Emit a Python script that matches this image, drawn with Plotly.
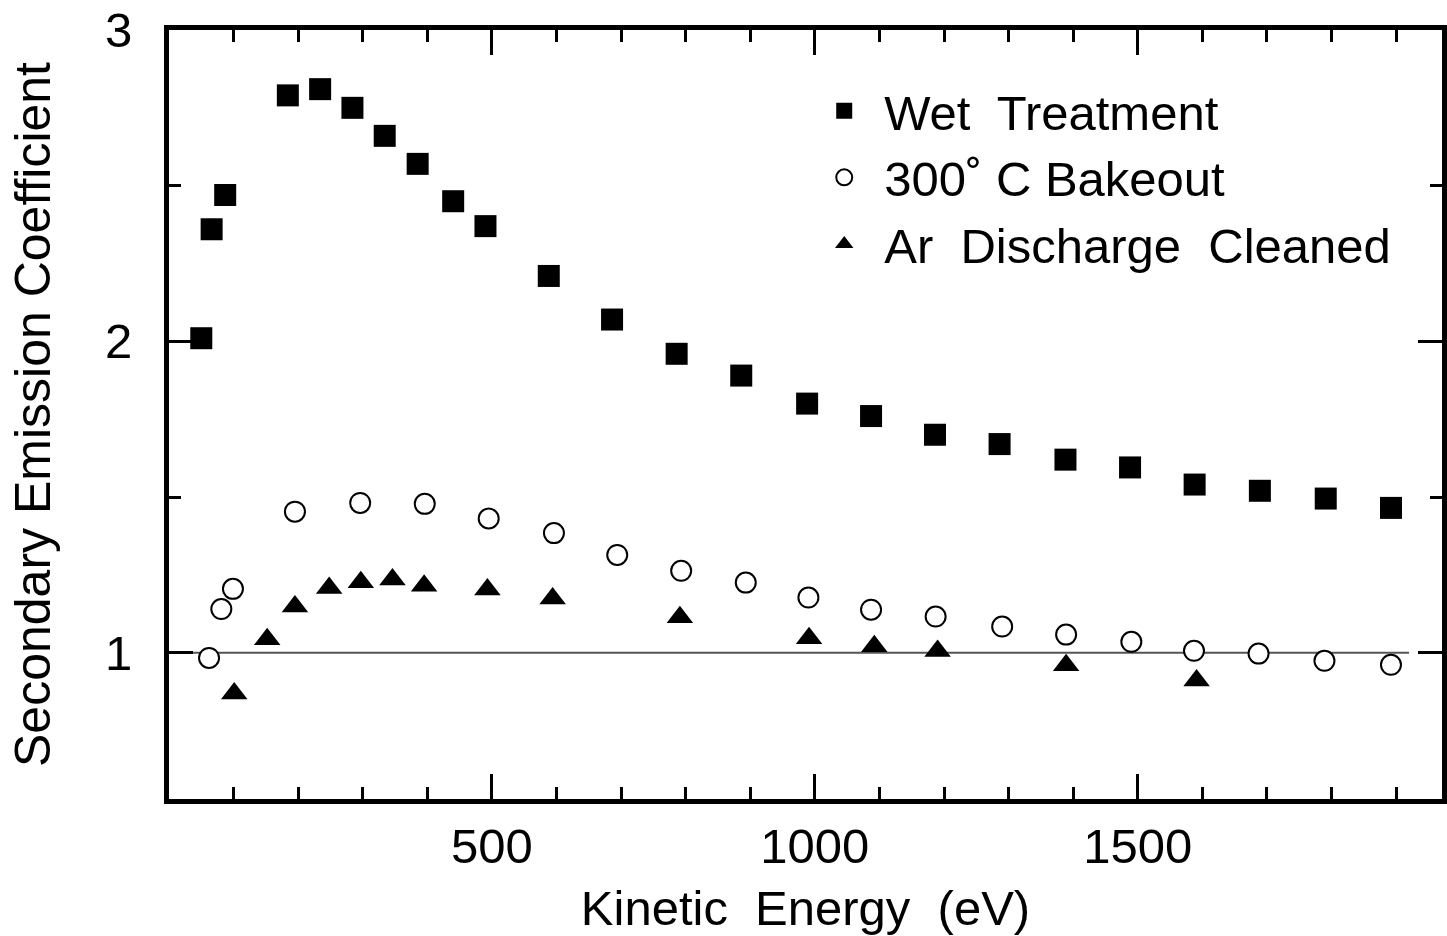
import plotly.graph_objects as go

# ---- data ----
wet_x = [50, 66, 87, 184, 234, 284, 334, 385, 440, 490, 588, 686, 786, 886,
         988, 1087, 1186, 1286, 1388, 1488, 1588, 1689, 1791, 1892]
wet_y = [2.01, 2.36, 2.47, 2.79, 2.81, 2.75, 2.66, 2.57, 2.45, 2.37, 2.21, 2.07,
         1.96, 1.89, 1.80, 1.76, 1.70, 1.67, 1.62, 1.595, 1.54, 1.52, 1.495, 1.465]

bake_x = [62, 81, 99, 195, 296, 396, 495, 596, 694, 793, 893, 990, 1087, 1187,
          1290, 1389, 1490, 1587, 1687, 1789, 1892]
bake_y = [0.983, 1.140, 1.205, 1.453, 1.481, 1.478, 1.431, 1.384, 1.314, 1.263,
          1.225, 1.177, 1.138, 1.116, 1.084, 1.058, 1.035, 1.006, 0.997, 0.974, 0.961]

ar_x = [101, 152, 195, 248, 297, 346, 395, 493, 594, 791, 991, 1092, 1190, 1389, 1591]
ar_y = [0.869, 1.043, 1.148, 1.208, 1.226, 1.235, 1.215, 1.203, 1.174, 1.114,
        1.046, 1.021, 1.005, 0.960, 0.911]

names = ["Wet\u00a0 Treatment", "300\u02da C Bakeout", "Ar\u00a0 Discharge\u00a0 Cleaned"]
x_ticks = [500, 1000, 1500]
y_ticks = [1, 2, 3]
ref_level = 1
ref_line_end = 1920

FONT = "Liberation Sans, Arial, sans-serif"

fig = go.Figure()
fig.add_trace(go.Scatter(x=wet_x, y=wet_y, mode="markers", name=names[0],
                         marker=dict(symbol="square", size=22, color="black",
                                     line=dict(width=0))))
fig.add_trace(go.Scatter(x=bake_x, y=bake_y, mode="markers", name=names[1],
                         marker=dict(symbol="circle", size=20, color="white",
                                     line=dict(width=2, color="black"))))
fig.add_trace(go.Scatter(x=ar_x, y=ar_y, mode="markers", name=names[2],
                         marker=dict(symbol="triangle-up", size=23, color="black",
                                     line=dict(width=0))))

fig.add_shape(type="line", xref="x", yref="y", x0=0, x1=ref_line_end,
              y0=ref_level, y1=ref_level, line=dict(color="#555555", width=2),
              layer="below")

fig.update_layout(
    width=1447, height=936,
    margin=dict(l=169, r=0, t=30, b=137),
    paper_bgcolor="white", plot_bgcolor="white",
    font=dict(family=FONT, size=49, color="black"),
    showlegend=True,
    legend=dict(x=0.499, y=0.945, xanchor="left", yanchor="top",
                bgcolor="rgba(0,0,0,0)", borderwidth=0,
                font=dict(family=FONT, size=49, color="black"),
                itemwidth=70),
)

fig.update_xaxes(
    range=[0, 1971],
    tickmode="array", tickvals=x_ticks,
    ticks="inside", ticklen=25, tickwidth=3, tickcolor="black",
    minor=dict(tickmode="linear", tick0=0, dtick=100, ticks="inside",
               ticklen=12, tickwidth=3, tickcolor="black"),
    showline=True, linewidth=5, linecolor="black", mirror="ticks",
    showgrid=False, zeroline=False,
    ticklabelstandoff=0,
    tickfont=dict(size=49),
    title=dict(text="Kinetic\u00a0 Energy\u00a0 (eV)", font=dict(size=49), standoff=20),
)

fig.update_yaxes(
    range=[0.53, 3.0],
    tickmode="array", tickvals=y_ticks,
    ticks="inside", ticklen=24, tickwidth=3, tickcolor="black",
    minor=dict(tickmode="linear", tick0=0, dtick=0.5, ticks="inside",
               ticklen=12, tickwidth=3, tickcolor="black"),
    showline=True, linewidth=5, linecolor="black", mirror="ticks",
    showgrid=False, zeroline=False,
    ticklabelstandoff=22,
    tickfont=dict(size=49),
    title=dict(text="Secondary Emission Coefficient", font=dict(size=50), standoff=40),
)

fig.write_html("out.html")
